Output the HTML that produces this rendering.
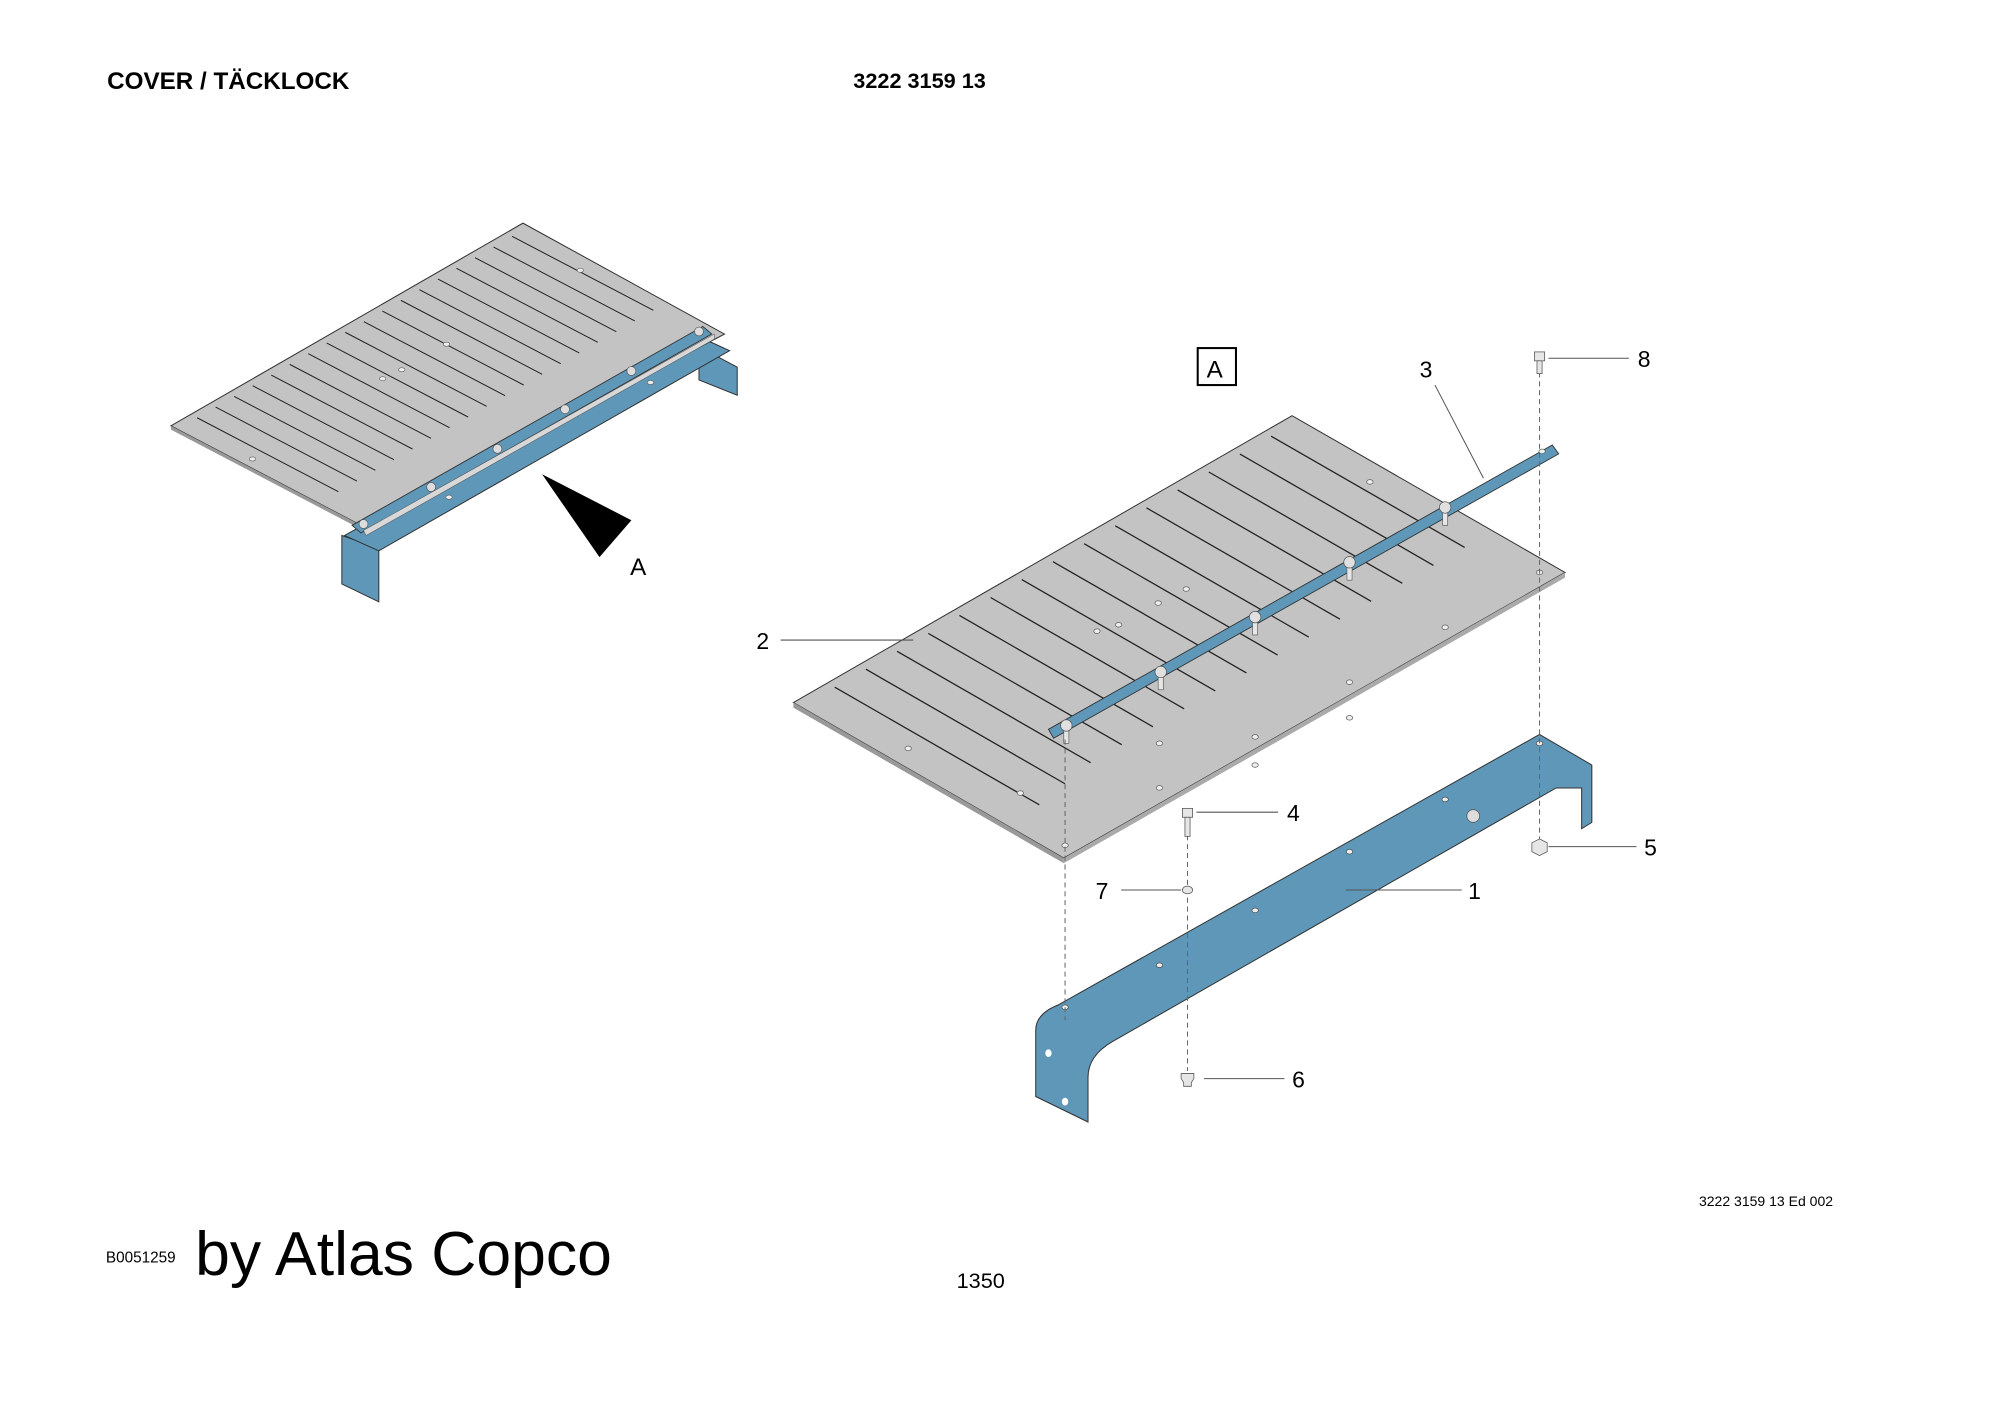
<!DOCTYPE html>
<html><head><meta charset="utf-8"><style>
html,body{margin:0;padding:0;background:#fff}
svg{display:block}
text{font-family:"Liberation Sans",sans-serif;fill:#000}
</style></head><body>
<svg id="s" width="2000" height="1414" viewBox="0 0 1568 1109" preserveAspectRatio="none" xmlns="http://www.w3.org/2000/svg">
<text x="84" y="70" font-size="19" font-weight="bold">COVER / TÄCKLOCK</text>
<text x="669" y="69" font-size="17" font-weight="bold">3222 3159 13</text>
<text x="1332" y="946" font-size="11">3222 3159 13 Ed 002</text>
<text x="83" y="990" font-size="12">B0051259</text>
<text x="153" y="1000" font-size="49" font-family="DejaVu Sans, sans-serif">by Atlas Copco</text>
<text x="750" y="1010" font-size="17">1350</text>

<g id="small">
<path d="M268,420 L297,430 L297,472 L268,458 Z" fill="#5f97b8" stroke="#333" stroke-width="0.8"/>
<polygon points="548,272 578,288 578,310 548,298" fill="#5f97b8" stroke="#333" stroke-width="0.8"/>
<polygon points="270,420 550,265 572,275 297,432" fill="#5f97b8" stroke="#333" stroke-width="0.8"/>
<polygon points="134,334 410,175 568,262 283,412" fill="#c3c3c3" stroke="#333" stroke-width="0.8"/>
<polygon points="134,334 283,412 283,415 134,337" fill="#999"/>
<polygon points="276,412 551,256 558,262 283,418" fill="#5f97b8" stroke="#333" stroke-width="0.7"/>
<polygon points="285,416 560,262 560,266 287,420" fill="#d8d8d8" stroke="#555" stroke-width="0.4"/>
<polygon points="425,372 495,408 470,437" fill="#000"/>
<text x="494" y="451" font-size="19">A</text>
</g>

<rect x="939" y="273" width="30" height="29" fill="none" stroke="#000" stroke-width="1.6"/>
<text x="946" y="296" font-size="19">A</text>
<polygon points="622,551 1013,326 1227,449 834,673" fill="#c3c3c3" stroke="#333" stroke-width="0.8"/>
<polygon points="622,551 834,673 834,677 622,555" fill="#999"/>
<polygon points="834,673 1227,449 1227,453 834,677" fill="#aaa"/>
<g id="slots" stroke="#222" stroke-width="1"></g>
<g id="holes" fill="#eee" stroke="#666" stroke-width="0.6"></g>
<polygon points="822,572 1217,349 1222,356 826,579" fill="#5f97b8" stroke="#333" stroke-width="0.7"/>
<g id="bolts"></g>

<path d="M812,808 Q812,795 830,788 L1207,576 L1248,600 L1248,645 L1240,650 L1240,618 L1220,618 L872,817 Q853,828 853,845 L853,880 L812,860 Z" fill="#5f97b8" stroke="#333" stroke-width="0.8"/>
<ellipse cx="822" cy="826" rx="2.5" ry="3" fill="#fff"/>
<ellipse cx="835" cy="864" rx="2.5" ry="3" fill="#fff"/>
<ellipse cx="1235" cy="632" rx="2.5" ry="3" fill="#fff"/>
<g fill="#eee" stroke="#444" stroke-width="0.5">
<ellipse cx="835" cy="790" rx="2.5" ry="1.8"/><ellipse cx="909" cy="757" rx="2.5" ry="1.8"/><ellipse cx="984" cy="714" rx="2.5" ry="1.8"/><ellipse cx="1058" cy="668" rx="2.5" ry="1.8"/><ellipse cx="1133" cy="627" rx="2.5" ry="1.8"/><ellipse cx="1207" cy="583" rx="2.5" ry="1.8"/>
</g>
<circle cx="1155" cy="640" r="5" fill="#ddd" stroke="#555" stroke-width="0.6"/>

<g stroke="#666" stroke-width="0.8" stroke-dasharray="4,3" fill="none">
<line x1="835" y1="580" x2="835" y2="800"/>
<line x1="1207" y1="292" x2="1207" y2="660"/>
<line x1="931" y1="655" x2="931" y2="840"/>
</g>
<g fill="#e6e6e6" stroke="#555" stroke-width="0.6">
<rect x="1203" y="276" width="8" height="7"/><rect x="1205" y="283" width="4" height="10"/>
<rect x="927" y="634" width="8" height="7"/><rect x="929" y="641" width="4" height="15"/>
<ellipse cx="931" cy="698" rx="4" ry="3"/>
<polygon points="1201,661 1207,658 1213,661 1213,668 1207,671 1201,668"/>
<path d="M926,842 h10 v4 l-2,3 v3 h-6 v-3 l-2,-3 z"/>
</g>
<g stroke="#555" stroke-width="0.8">
<line x1="1214" y1="281" x2="1277" y2="281"/>
<line x1="1125" y1="302" x2="1163" y2="375"/>
<line x1="612" y1="502" x2="716" y2="502"/>
<line x1="938" y1="637" x2="1002" y2="637"/>
<line x1="1214" y1="664" x2="1283" y2="664"/>
<line x1="879" y1="698" x2="926" y2="698"/>
<line x1="1055" y1="698" x2="1146" y2="698"/>
<line x1="944" y1="846" x2="1007" y2="846"/>
</g>
<g font-size="18">
<text x="1284" y="288">8</text><text x="1113" y="296">3</text><text x="593" y="509">2</text>
<text x="1009" y="644">4</text><text x="1289" y="671">5</text><text x="859" y="705">7</text>
<text x="1151" y="705">1</text><text x="1013" y="853">6</text>
</g>
</svg>
<script>
var NS="http://www.w3.org/2000/svg";
function el(p,t,a){var e=document.createElementNS(NS,t);for(var k in a)e.setAttribute(k,a[k]);p.appendChild(e);return e;}
var sl=document.getElementById('slots'),sm=document.getElementById('small');
for(var i=1;i<=15;i++){var t=i/16;var x=622+t*391+8,y=551-t*225+2;var L=i<4?190-i*5:175;
el(sl,'line',{x1:x,y1:y,x2:x+0.867*L,y2:y+0.499*L});}
for(var i=1;i<=18;i++){var t=i/19;var x=134+t*276+6,y=334-t*159+2;var L=125;
el(sm,'line',{x1:x,y1:y,x2:x+0.886*L,y2:y+0.464*L,stroke:'#222','stroke-width':0.8});}
var sb=document.getElementById('small');
[[285,411],[338,382],[390,352],[443,321],[495,291],[548,260]].forEach(function(p){el(sb,'circle',{cx:p[0],cy:p[1],r:3.5,fill:'#ddd',stroke:'#555','stroke-width':0.5});});
[[198,360],[300,297],[350,270],[455,212],[315,290],[510,300],[352,390]].forEach(function(p){el(sb,'ellipse',{cx:p[0],cy:p[1],rx:2.5,ry:1.6,fill:'#eee',stroke:'#666','stroke-width':0.5});});
var h=document.getElementById('holes');
[[712,587],[800,622],[909,583],[984,578],[1058,535],[1133,492],[1207,449],[1074,378],[908,473],[930,462],[860,495],[877,490],[835,663],[909,618],[984,600],[1058,563]].forEach(function(p){el(h,'ellipse',{cx:p[0],cy:p[1],rx:2.5,ry:1.8});});
var b=document.getElementById('bolts');
[[836,569],[910,527],[984,484],[1058,441],[1133,398],[1209,354]].forEach(function(p,i){
if(i<5){el(b,'rect',{x:p[0]-2,y:p[1]+4,width:4,height:10,fill:'#e6e6e6',stroke:'#555','stroke-width':0.5});
el(b,'circle',{cx:p[0],cy:p[1],r:4.5,fill:'#e0e0e0',stroke:'#555','stroke-width':0.6});}
else el(b,'ellipse',{cx:p[0],cy:p[1],rx:2.5,ry:1.8,fill:'#eee',stroke:'#555','stroke-width':0.5});});
</script>
</body></html>
